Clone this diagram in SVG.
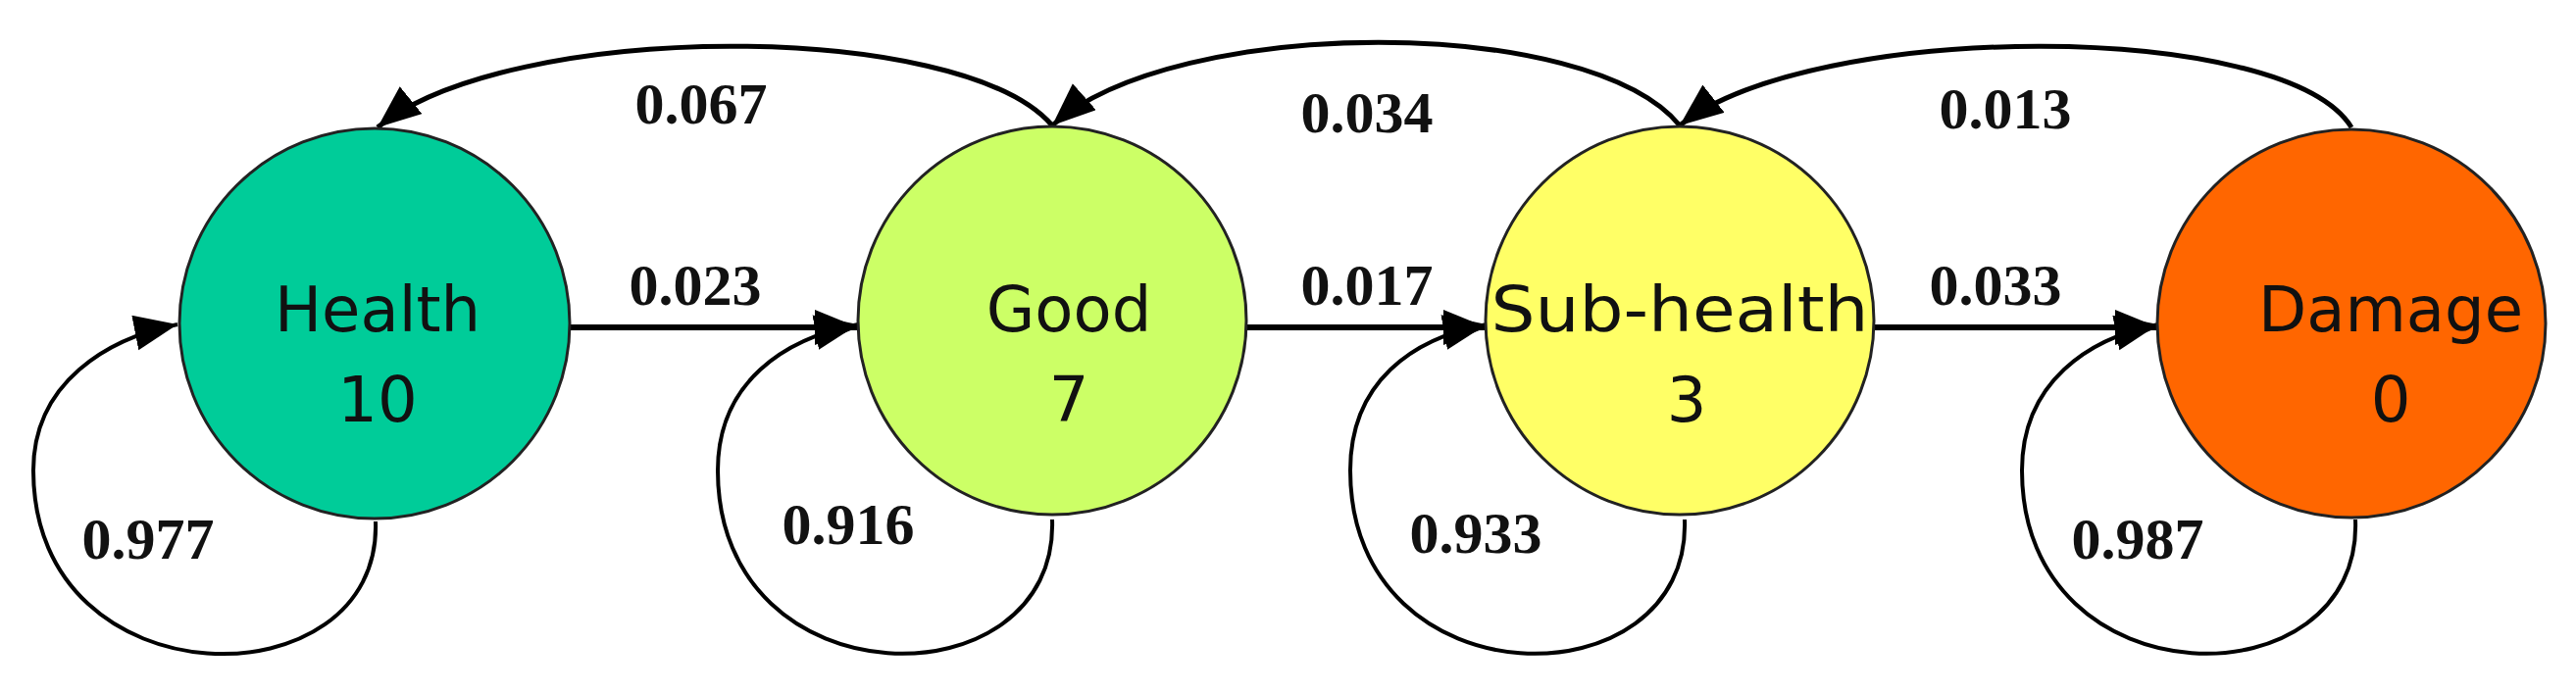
<svg xmlns="http://www.w3.org/2000/svg" width="2627" height="707" viewBox="0 0 2627 707">
<style>
.n{stroke:#222;stroke-width:3}
.t{font-family:"DejaVu Sans",sans-serif;font-size:64px;text-anchor:middle;fill:#111}
.l{font-family:"Liberation Serif",serif;font-weight:bold;font-size:60px;text-anchor:middle;fill:#111}
.c{fill:none;stroke:#000;stroke-width:5;marker-end:url(#a)}
.f{stroke-width:6}
</style>
<defs>
<marker id="a" markerUnits="userSpaceOnUse" markerWidth="50" markerHeight="40" refX="44" refY="18" orient="auto"><path d="M0,0 L44,18 L0,36 Z" fill="#000"/></marker>
</defs>
<rect width="2627" height="707" fill="#fff"/>
<g id="connectors">
<path class="c f" d="M581,334 L875,334"/>
<path class="c f" d="M1271,334 L1516,334"/>
<path class="c f" d="M1911,334 L2201,334"/>
<path class="c" d="M1073,128 C980,20 520,20 385,130"/>
<path class="c" d="M1713,128 C1620,15 1200,15 1073,128"/>
<path class="c" d="M2398,130 C2330,20 1850,20 1713,128"/>
<path class="c" style="stroke-width:4" d="M383,532 C390,720 34,720 34,480 C34,390 110,345 181,331"/>
<path class="c" style="stroke-width:4" d="M1073,530 C1080,720 732,720 732,480 C732,390 800,345 875,331"/>
<path class="c" style="stroke-width:4" d="M1718,530 C1725,720 1377,720 1377,480 C1377,390 1440,345 1516,331"/>
<path class="c" style="stroke-width:4" d="M2402,530 C2410,720 2062,720 2062,480 C2062,390 2130,345 2201,331"/>
</g>
<g id="labels">
<text class="l" x="715" y="126">0.067</text>
<text class="l" x="709" y="311">0.023</text>
<text class="l" x="151" y="570">0.977</text>
<text class="l" x="865" y="555">0.916</text>
<text class="l" x="1394" y="135">0.034</text>
<text class="l" x="1394" y="311">0.017</text>
<text class="l" x="1505" y="564">0.933</text>
<text class="l" x="2045" y="131">0.013</text>
<text class="l" x="2035" y="311">0.033</text>
<text class="l" x="2180" y="570">0.987</text>
</g>
<g id="health"><circle class="n" cx="382" cy="330" r="199" fill="#00CC99"/><text class="t" x="385" y="338">Health</text><text class="t" x="385" y="430">10</text></g>
<g id="good"><circle class="n" cx="1073" cy="327" r="198" fill="#CCFF66"/><text class="t" x="1090" y="338">Good</text><text class="t" x="1090" y="430">7</text></g>
<g id="subhealth"><circle class="n" cx="1713" cy="327" r="198" fill="#FFFF66"/><text class="t" x="1713" y="338" textLength="385" lengthAdjust="spacingAndGlyphs">Sub-health</text><text class="t" x="1720" y="430">3</text></g>
<g id="damage"><circle class="n" cx="2398" cy="330" r="198" fill="#FF6600"/><text class="t" x="2438" y="338">Damage</text><text class="t" x="2438" y="430">0</text></g>
</svg>
